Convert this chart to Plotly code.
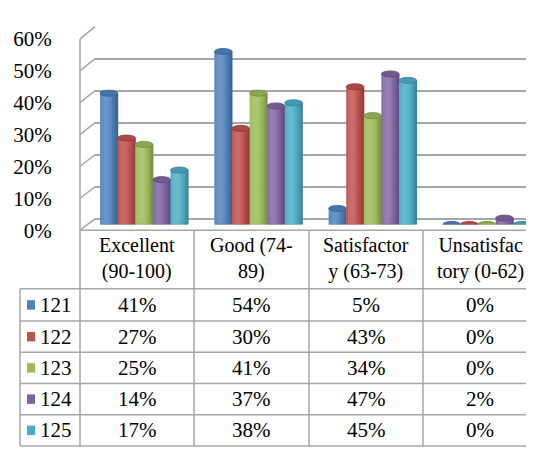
import plotly.graph_objects as go
import math

# ---------------- data ----------------
categories = ["Excellent (90-100)", "Good (74-89)", "Satisfactory (63-73)", "Unsatisfactory (0-62)"]
header_labels = ["Excellent<br>(90-100)", "Good (74-<br>89)", "Satisfactor<br>y (63-73)", "Unsatisfac<br>tory (0-62)"]
series_names = ["121", "122", "123", "124", "125"]
v121 = [41, 54, 5, 0]
v122 = [27, 30, 43, 0]
v123 = [25, 41, 34, 0]
v124 = [14, 37, 47, 2]
v125 = [17, 38, 45, 0]
series_values = [v121, v122, v123, v124, v125]
series_colors = ["#4F81BD", "#C0504D", "#9BBB59", "#8064A2", "#4BACC6"]
y_ticks = [0, 10, 20, 30, 40, 50, 60]
y_tick_labels = ["0%", "10%", "20%", "30%", "40%", "50%", "60%"]

# ---------------- geometry (pixels) ----------------
W, H = 534, 450
def px(x): return x / W
def py(y): return 1 - y / H

FRONT_L, BACK_L, RIGHT = 72, 87, 534
FRONT0, FRONT_TOP = 222, 20
MID0, MID_TOP = 216, 13
BACK0, BACK_TOP = 210, 7
YMAX = 60
COL_EDGES = [12, 72, 186, 301, 415, 529]
ROW_EDGES = [222, 284, 318, 351, 384, 417, 450]
FONT = "Liberation Serif, Times New Roman, serif"
GRID = "#A6A6A6"
LINE = "#A6A6A6"

unit = (COL_EDGES[-1] - COL_EDGES[1]) / len(categories)
bar_left = FRONT_L + 7
GROUP = 0.77
bw = GROUP / len(series_names)
NSTRIP = 9

def hex2rgb(h):
    h = h.lstrip("#")
    return [int(h[i:i + 2], 16) for i in (0, 2, 4)]

def shade(hexc, f):
    r = hex2rgb(hexc)
    if f >= 1:
        out = [c + (255 - c) * min(1, (f - 1) * 1.6) for c in r]
    else:
        out = [c * f for c in r]
    return "rgb(%d,%d,%d)" % tuple(int(max(0, min(255, c))) for c in out)

def profile(t):
    return 0.74 + 0.36 * math.cos(math.pi * (t - 0.33) / 1.35)

fig = go.Figure()
fig.add_trace(go.Scatter(x=[0], y=[0], mode="none", showlegend=False, hoverinfo="skip",
                         xaxis="x", yaxis="y"))
fig.add_trace(go.Scatter(x=[0], y=[0], mode="none", showlegend=False, hoverinfo="skip",
                         xaxis="x2", yaxis="y2"))

idx = list(range(len(categories)))
shapes = []
e = 3.2 * YMAX / (MID0 - MID_TOP)
for j, (name, vals, col) in enumerate(zip(series_names, series_values, series_colors)):
    base_off = -GROUP / 2 + j * bw
    for k in range(NSTRIP):
        t = (k + 0.5) / NSTRIP
        fig.add_trace(go.Bar(
            x=idx, y=vals, xaxis="x3", yaxis="y3",
            width=bw / NSTRIP * 1.25, offset=base_off + k * bw / NSTRIP,
            marker=dict(color=shade(col, profile(t)), line=dict(width=0)),
            showlegend=False, hoverinfo="skip"))
    for i, v in zip(idx, vals):
        x0 = i + base_off
        x1 = x0 + bw
        shapes.append(dict(type="circle", xref="x3", yref="y3", x0=x0, x1=x1,
                           y0=-e, y1=e, fillcolor=shade(col, 0.8),
                           line=dict(width=0), layer="below"))
        shapes.append(dict(type="circle", xref="x3", yref="y3", x0=x0, x1=x1,
                           y0=v - e, y1=v + e, fillcolor=shade(col, 0.9),
                           line=dict(width=0.8, color=shade(col, 0.75)), layer="above"))

def fy(v): return FRONT0 - v * (FRONT0 - FRONT_TOP) / YMAX
def by(v): return BACK0 - v * (BACK0 - BACK_TOP) / YMAX

def pline(x0, y0, x1, y1, color=GRID, w=1.5):
    shapes.append(dict(type="line", xref="paper", yref="paper",
                       x0=px(x0), y0=py(y0), x1=px(x1), y1=py(y1),
                       line=dict(color=color, width=w), layer="below"))

pline(FRONT_L, fy(YMAX), FRONT_L, FRONT0)
for v in y_ticks:
    pline(FRONT_L, fy(v), BACK_L, by(v))
pline(COL_EDGES[-1], FRONT0, RIGHT, FRONT0 - 6)

for yv in ROW_EDGES:
    xstart = COL_EDGES[1] if yv == ROW_EDGES[0] else COL_EDGES[0]
    pline(xstart, yv, COL_EDGES[-1], yv, LINE, 1.5)
for xi, xv in enumerate(COL_EDGES):
    ystart = ROW_EDGES[1] if xi == 0 else ROW_EDGES[0]
    pline(xv, ystart, xv, ROW_EDGES[-1], LINE, 1.5)

annotations = []
for c, lab in enumerate(header_labels):
    xc = (COL_EDGES[c + 1] + COL_EDGES[c + 2]) / 2
    yc = (ROW_EDGES[0] + ROW_EDGES[1]) / 2 - 1
    annotations.append(dict(xref="paper", yref="paper", x=px(xc), y=py(yc),
                            text=lab, showarrow=False, xanchor="center", yanchor="middle",
                            font=dict(family=FONT, size=20, color="black")))
for r, (name, vals, col) in enumerate(zip(series_names, series_values, series_colors)):
    yc = (ROW_EDGES[r + 1] + ROW_EDGES[r + 2]) / 2
    shapes.append(dict(type="rect", xref="paper", yref="paper",
                       x0=px(19), x1=px(27), y0=py(yc + 5), y1=py(yc - 5),
                       fillcolor=col, line=dict(width=0)))
    annotations.append(dict(xref="paper", yref="paper", x=px(30), y=py(yc),
                            text=name, showarrow=False, xanchor="left", yanchor="middle",
                            font=dict(family=FONT, size=21, color="black")))
    for c, v in enumerate(vals):
        xc = (COL_EDGES[c + 1] + COL_EDGES[c + 2]) / 2
        annotations.append(dict(xref="paper", yref="paper", x=px(xc), y=py(yc),
                                text="%d%%" % v, showarrow=False, xanchor="center",
                                yanchor="middle",
                                font=dict(family=FONT, size=21, color="black")))

fig.update_layout(
    width=W, height=H, margin=dict(l=0, r=0, t=0, b=0),
    paper_bgcolor="white", plot_bgcolor="rgba(0,0,0,0)",
    font=dict(family=FONT, color="black"),
    barmode="overlay", showlegend=False,
    xaxis=dict(domain=[px(BACK_L), 1], range=[0, 1], visible=False, fixedrange=True),
    yaxis=dict(domain=[py(BACK0), py(BACK_TOP)], range=[0, YMAX], tickmode="array",
               tickvals=y_ticks, showticklabels=False, showgrid=True, gridcolor=GRID,
               gridwidth=1.5, zeroline=True, zerolinecolor=GRID, zerolinewidth=1.5,
               showline=False, ticks="", anchor="x", fixedrange=True),
    xaxis2=dict(domain=[px(FRONT_L), 1], range=[0, 1], visible=False, anchor="y2"),
    yaxis2=dict(domain=[py(FRONT0), py(FRONT_TOP)], range=[0, YMAX], tickmode="array",
                tickvals=y_ticks, ticktext=y_tick_labels, showgrid=False, zeroline=False,
                showline=False, ticks="outside", ticklen=23, tickcolor="rgba(0,0,0,0)",
                tickfont=dict(family=FONT, size=21, color="black"), anchor="x2"),
    xaxis3=dict(domain=[px(bar_left), 1],
                range=[-0.5, -0.5 + (RIGHT - bar_left) / unit], visible=False, anchor="y3"),
    yaxis3=dict(domain=[py(MID0), py(MID_TOP)], range=[0, YMAX], visible=False, anchor="x3"),
    shapes=shapes, annotations=annotations,
)

fig.write_html("out.html")
